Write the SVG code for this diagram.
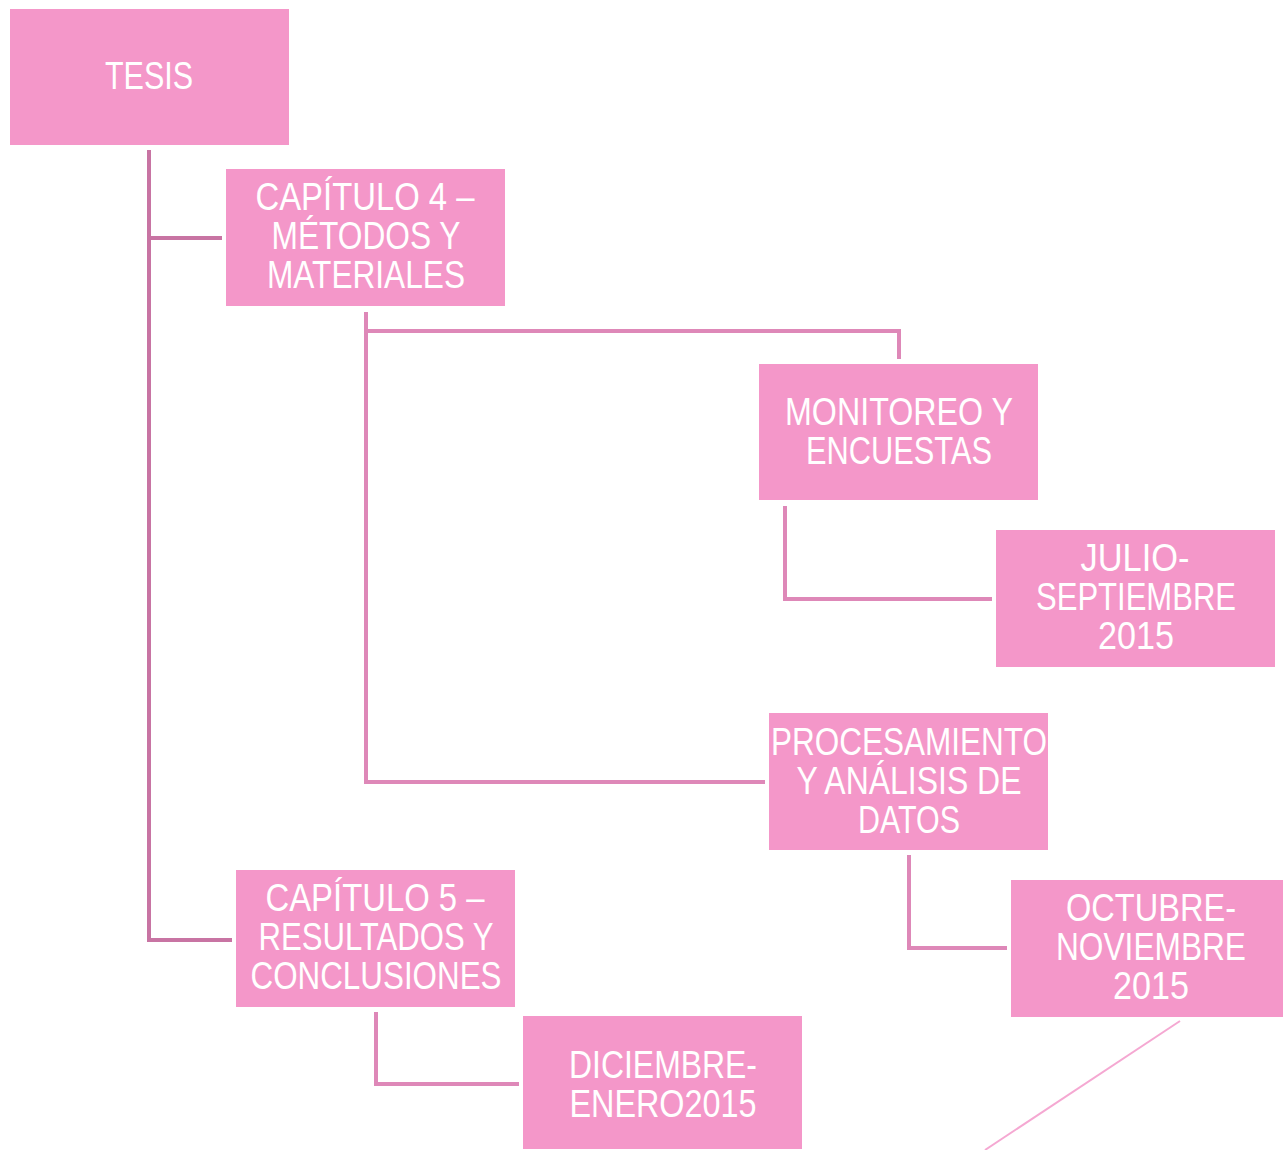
<svg xmlns="http://www.w3.org/2000/svg" width="1283" height="1150" viewBox="0 0 1283 1150">
<style>
.box{fill:#F497C9;}
.t{font-family:"Liberation Sans",Arial,sans-serif;font-size:38px;fill:#FFFFFF;text-anchor:middle;}
.c1{fill:none;stroke:#C874A3;stroke-width:4;}
.c2{fill:none;stroke:#DE88B8;stroke-width:4;}
.diag{stroke:#F5A8D2;stroke-width:2;}
</style>
<rect width="1283" height="1150" fill="#FFFFFF"/>
<g id="connectors">
<path class="c1" d="M149,150 V940 H232"/>
<path class="c1" d="M149,238 H222"/>
<path class="c2" d="M366,312 V782 H765"/>
<path class="c2" d="M366,331 H899 V359"/>
<path class="c2" d="M785,506 V599 H992"/>
<path class="c2" d="M909,855 V948 H1007"/>
<path class="c2" d="M376,1012 V1084 H519"/>
<line class="diag" x1="1180" y1="1021" x2="985" y2="1150"/>
</g>
<g id="tesis">
<rect class="box" x="10" y="9" width="279" height="136"/>
<text class="t" x="149" y="89" textLength="88" lengthAdjust="spacingAndGlyphs">TESIS</text>
</g>
<g id="cap4">
<rect class="box" x="226" y="169" width="279" height="137"/>
<text class="t" x="365" y="210" textLength="219" lengthAdjust="spacingAndGlyphs">CAPÍTULO 4 –</text>
<text class="t" x="366" y="249" textLength="189" lengthAdjust="spacingAndGlyphs">MÉTODOS Y</text>
<text class="t" x="366" y="288" textLength="198" lengthAdjust="spacingAndGlyphs">MATERIALES</text>
</g>
<g id="monitoreo">
<rect class="box" x="759" y="364" width="279" height="136"/>
<text class="t" x="899" y="425" textLength="228" lengthAdjust="spacingAndGlyphs">MONITOREO Y</text>
<text class="t" x="899" y="464" textLength="186" lengthAdjust="spacingAndGlyphs">ENCUESTAS</text>
</g>
<g id="julio">
<rect class="box" x="996" y="530" width="279" height="137"/>
<text class="t" x="1135" y="571" textLength="109" lengthAdjust="spacingAndGlyphs">JULIO-</text>
<text class="t" x="1136" y="610" textLength="200" lengthAdjust="spacingAndGlyphs">SEPTIEMBRE</text>
<text class="t" x="1136" y="649" textLength="76" lengthAdjust="spacingAndGlyphs">2015</text>
</g>
<g id="procesamiento">
<rect class="box" x="769" y="713" width="279" height="137"/>
<text class="t" x="909" y="755" textLength="276" lengthAdjust="spacingAndGlyphs">PROCESAMIENTO</text>
<text class="t" x="909" y="794" textLength="225" lengthAdjust="spacingAndGlyphs">Y ANÁLISIS DE</text>
<text class="t" x="909" y="833" textLength="102" lengthAdjust="spacingAndGlyphs">DATOS</text>
</g>
<g id="octubre">
<rect class="box" x="1011" y="880" width="279" height="137"/>
<text class="t" x="1151" y="921" textLength="170" lengthAdjust="spacingAndGlyphs">OCTUBRE-</text>
<text class="t" x="1151" y="960" textLength="190" lengthAdjust="spacingAndGlyphs">NOVIEMBRE</text>
<text class="t" x="1151" y="999" textLength="76" lengthAdjust="spacingAndGlyphs">2015</text>
</g>
<g id="cap5">
<rect class="box" x="236" y="870" width="279" height="137"/>
<text class="t" x="375" y="911" textLength="219" lengthAdjust="spacingAndGlyphs">CAPÍTULO 5 –</text>
<text class="t" x="376" y="950" textLength="235" lengthAdjust="spacingAndGlyphs">RESULTADOS Y</text>
<text class="t" x="376" y="989" textLength="251" lengthAdjust="spacingAndGlyphs">CONCLUSIONES</text>
</g>
<g id="diciembre">
<rect class="box" x="523" y="1016" width="279" height="133"/>
<text class="t" x="663" y="1078" textLength="188" lengthAdjust="spacingAndGlyphs">DICIEMBRE-</text>
<text class="t" x="663" y="1117" textLength="187" lengthAdjust="spacingAndGlyphs">ENERO2015</text>
</g>
</svg>
